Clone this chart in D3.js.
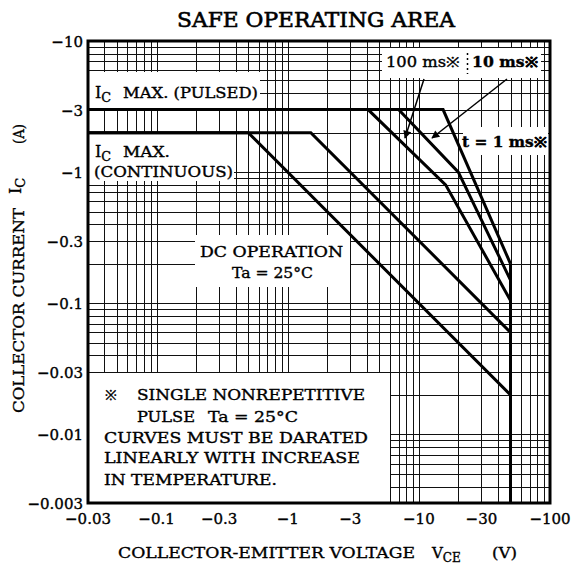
<!DOCTYPE html>
<html>
<head>
<meta charset="UTF-8">
<script src="https://d3js.org/d3.v7.min.js"></script>
<style>
  body { margin: 0; background: #fff; }
  text { font-family: "DejaVu Serif", serif; fill: #000; stroke: #000; stroke-width: 0.35px; }
</style>
</head>
<body>
<div id="chart"></div>
<script>
// axis ticks (magnitudes, printed with a minus sign)
var xTicks = [0.03, 0.1, 0.3, 1, 3, 10, 30, 100]
var xTickLabels = ["\u22120.03", "\u22120.1", "\u22120.3", "\u22121", "\u22123", "\u221210", "\u221230", "\u2212100"]
var yTicks = [10, 3, 1, 0.3, 0.1, 0.03, 0.01, 0.003]
var yTickLabels = ["\u221210", "\u22123", "\u22121", "\u22120.3", "\u22120.1", "\u22120.03", "\u22120.01", "\u22120.003"]

// curves: [|VCE| (V), |IC| (A)]
var dcLow = [[0.03, 2], [0.5, 2], [50, 0.02]]
var dcHigh = [[0.03, 2], [1.5, 2], [50, 0.06]]
var pulse100ms = [[0.03, 3], [4.1, 3], [16, 0.8], [50, 0.105]]
var pulse10ms = [[0.03, 3], [7, 3], [20, 1.0], [50, 0.15]]
var pulse1ms = [[0.03, 3], [15.3, 3], [50, 0.2]]
var vceMax = [[50, 0.2], [50, 0.003]]

var W = 572, H = 569
var plotLeft = 88, plotTop = 41, plotSize = 462

var svg = d3.select("#chart").append("svg")
    .attr("width", W)
    .attr("height", H)

var x = d3.scaleLog().domain([0.03, 100]).range([plotLeft, plotLeft + plotSize])
var y = d3.scaleLog().domain([0.003, 10]).range([plotTop + plotSize, plotTop])

function isDecade(v) {
    var l = Math.log10(v)
    return Math.abs(l - Math.round(l)) < 1e-9
}

// grid
var grid = svg.append("g").attr("shape-rendering", "crispEdges")
grid.selectAll(".vg").data(x.ticks())
    .enter().append("line")
    .attr("x1", function(d) { return Math.round(x(d)) + 0.5 })
    .attr("x2", function(d) { return Math.round(x(d)) + 0.5 })
    .attr("y1", plotTop).attr("y2", plotTop + plotSize)
    .attr("stroke", "#111")
    .attr("stroke-width", function(d) { return isDecade(d) ? 1.6 : 1 })
grid.selectAll(".hg").data(y.ticks())
    .enter().append("line")
    .attr("y1", function(d) { return Math.round(y(d)) + 0.5 })
    .attr("y2", function(d) { return Math.round(y(d)) + 0.5 })
    .attr("x1", plotLeft).attr("x2", plotLeft + plotSize)
    .attr("stroke", "#111")
    .attr("stroke-width", function(d) { return isDecade(d) || Math.abs(d - 0.04) < 1e-9 ? 1.8 : 1 })

// white label boxes
var boxes = [
    [89, 72, 171, 37],     // IC max pulsed
    [89, 134, 145, 47],    // IC max continuous
    [195, 235, 155, 52],   // DC operation
    [382, 48, 159, 30],    // 100ms / 10ms
    [463, 127, 85, 28],    // t = 1 ms
    [89, 373, 301, 129]    // note
]
svg.selectAll(".box").data(boxes)
    .enter().append("rect")
    .attr("x", function(d) { return d[0] })
    .attr("y", function(d) { return d[1] })
    .attr("width", function(d) { return d[2] })
    .attr("height", function(d) { return d[3] })
    .attr("fill", "#fff")

// curves
var line = d3.line()
    .x(function(d) { return x(d[0]) })
    .y(function(d) { return y(d[1]) })

var curves = [dcLow, dcHigh, pulse100ms, pulse10ms, pulse1ms, vceMax]
svg.selectAll(".curve").data(curves)
    .enter().append("path")
    .attr("d", line)
    .attr("fill", "none")
    .attr("stroke", "#000")
    .attr("stroke-width", 3)
    .attr("stroke-linejoin", "miter")

// frame
svg.append("rect")
    .attr("x", plotLeft).attr("y", plotTop)
    .attr("width", plotSize).attr("height", plotSize)
    .attr("fill", "none")
    .attr("stroke", "#000")
    .attr("stroke-width", 3)

// tick labels
svg.selectAll(".xt").data(xTicks)
    .enter().append("text")
    .attr("x", function(d) { return x(d) })
    .attr("y", 524)
    .attr("text-anchor", "middle")
    .attr("font-size", 15)
    .text(function(d, i) { return xTickLabels[i] })

svg.selectAll(".yt").data(yTicks)
    .enter().append("text")
    .attr("x", 83)
    .attr("y", function(d) { return y(d) + 6 })
    .attr("text-anchor", "end")
    .attr("font-size", 15)
    .text(function(d, i) { return yTickLabels[i] })

// title
svg.append("text")
    .attr("x", 177).attr("y", 27)
    .attr("font-size", 20)
    .attr("textLength", 278)
    .attr("lengthAdjust", "spacingAndGlyphs")
    .style("stroke-width", "0.6px")
    .text("SAFE OPERATING AREA")

function label(tx, ty, str, len, fs, weight) {
    var t = svg.append("text")
        .attr("x", tx).attr("y", ty)
        .attr("font-size", fs || 14)
        .text(str)
    if (len) t.attr("textLength", len).attr("lengthAdjust", "spacingAndGlyphs")
    if (weight) t.attr("font-weight", weight)
    return t
}

function sub(tx, ty, main, s, fs) {
    var t = svg.append("text")
        .attr("x", tx).attr("y", ty)
        .attr("font-size", fs || 15)
    t.append("tspan").text(main)
    t.append("tspan").attr("font-size", (fs || 15) * 0.8).attr("dy", 4).text(s)
    return t
}

// x axis title
label(118, 558, "COLLECTOR-EMITTER VOLTAGE", 297, 15)
sub(432, 558, "V", "CE", 15)
label(492, 558, "(V)", 25, 15)

// y axis title (rotated)
var yl = svg.append("g").attr("transform", "translate(24,413) rotate(-90)")
yl.append("text").attr("font-size", 15)
    .attr("textLength", 205).attr("lengthAdjust", "spacingAndGlyphs")
    .text("COLLECTOR CURRENT")
var yl2 = svg.append("g").attr("transform", "translate(21,194) rotate(-90)")
var ict = yl2.append("text").attr("font-size", 16)
ict.append("tspan").text("I")
ict.append("tspan").attr("font-size", 13).attr("dy", 4).text("C")
svg.append("g").attr("transform", "translate(24,144) rotate(-90)")
    .append("text").attr("font-size", 15)
    .attr("textLength", 20).attr("lengthAdjust", "spacingAndGlyphs")
    .text("(A)")

// annotations
sub(95, 98, "I", "C", 16)
label(123, 98, "MAX. (PULSED)", 135, 14)
sub(95, 157, "I", "C", 16)
label(123, 157, "MAX.", 47, 14)
label(94, 177, "(CONTINUOUS)", 139, 14)

label(200, 257, "DC OPERATION", 143, 14)
label(232, 278, "Ta = 25\u00b0C", 81, 14)

label(386, 67, "100 ms\u203b", 74, 14)
label(472, 67, "10 ms\u203b", 66, 14, "bold")
svg.append("line")
    .attr("x1", 467.5).attr("x2", 467.5)
    .attr("y1", 53).attr("y2", 74)
    .attr("stroke", "#000").attr("stroke-width", 1.5)
    .attr("stroke-dasharray", "2,3")
label(462, 147, "t = 1 ms\u203b", 85, 14, "bold")

label(105, 400, "\u203b", 12, 14)
label(137, 400, "SINGLE NONREPETITIVE", 228, 14)
label(137, 422, "PULSE", 58, 14)
label(208, 422, "Ta = 25\u00b0C", 90, 14)
label(104, 443, "CURVES MUST BE DARATED", 264, 14)
label(104, 463, "LINEARLY WITH INCREASE", 256, 14)
label(104, 485, "IN TEMPERATURE.", 173, 14)

// arrows
svg.append("defs").append("marker")
    .attr("id", "ah")
    .attr("viewBox", "0 0 10 10")
    .attr("refX", 9).attr("refY", 5)
    .attr("markerWidth", 11).attr("markerHeight", 8)
    .attr("markerUnits", "userSpaceOnUse")
    .attr("orient", "auto")
    .append("path").attr("d", "M0,0 L10,5 L0,10 Z").attr("fill", "#000")

var arrows = [[424, 79, 405, 138], [507, 79, 432, 138]]
svg.selectAll(".arr").data(arrows)
    .enter().append("line")
    .attr("x1", function(d) { return d[0] })
    .attr("y1", function(d) { return d[1] })
    .attr("x2", function(d) { return d[2] })
    .attr("y2", function(d) { return d[3] })
    .attr("stroke", "#000")
    .attr("stroke-width", 1.5)
    .attr("marker-end", "url(#ah)")
</script>
</body>
</html>
